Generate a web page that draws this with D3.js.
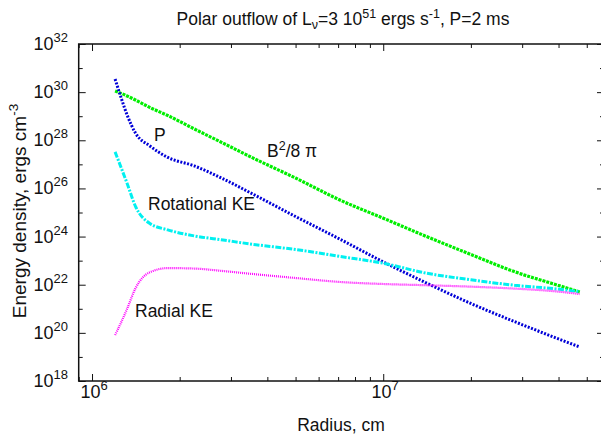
<!DOCTYPE html>
<html>
<head>
<meta charset="utf-8">
<script src="https://cdn.jsdelivr.net/npm/d3@7"></script>
<style>
  body { margin: 0; background: #fff; }
  text { font-family: "Liberation Sans", Arial, sans-serif; fill: #111; }
</style>
</head>
<body>
<div id="chart"></div>
<script>
// radius grid (cm)
var radius = [1.2e6, 1.26e6, 1.32e6, 1.41e6, 1.58e6, 1.82e6, 2.24e6, 2.82e6, 3.55e6,
  5.0e6, 7.1e6, 1.0e7, 1.41e7, 2.0e7, 2.82e7, 3.98e7, 4.73e7];

// energy densities (ergs cm^-3)
var magnetic = [1.12e30, 8.9e29, 6.9e29, 4.7e29, 2.3e29, 1.07e29, 3.0e28, 7.6e27, 1.9e27,
  2.7e26, 3.3e25, 5.8e24, 1.0e24, 1.8e23, 3.5e22, 9.5e21, 5.0e21];
var pressure = [3.5e30, 5.6e29, 1.12e29, 2.0e28, 5.8e27, 1.95e27, 8.7e26, 2.5e26, 6.0e25,
  6.8e24, 7.8e23, 8.9e22, 1.17e22, 1.66e21, 2.95e20, 5.75e19, 2.6e19];
var rotational = [3.3e27, 7.1e26, 1.6e26, 1.8e25, 3.5e24, 1.9e24, 1.07e24, 7.2e23, 4.8e23,
  2.9e23, 1.5e23, 7.8e22, 3.0e22, 1.6e22, 9.5e21, 6.6e21, 5.1e21];
var radial = [8.1e19, 2.8e20, 1.0e21, 7.1e21, 3.3e22, 4.9e22, 4.7e22, 3.7e22, 2.8e22,
  1.9e22, 1.3e22, 1.07e22, 9.5e21, 8.3e21, 6.9e21, 5.2e21, 4.1e21];

// tick exponents
var xMajorExp = [6, 7];
var yMajorExp = [18, 20, 22, 24, 26, 28, 30, 32];

var W = 601, H = 437;
var plotL = 78.7, plotR = 604, plotT = 44, plotB = 381;

var svg = d3.select("#chart").append("svg")
  .attr("width", W)
  .attr("height", H);

var x = d3.scaleLog().domain([9e5, 5.73e7]).range([plotL, plotR]);
var y = d3.scaleLog().domain([1e18, 1e32]).range([plotB, plotT]);

// minor / major tick values
var xMajor = xMajorExp.map(function (e) { return Math.pow(10, e); });
var xMinor = x.ticks(20).filter(function (d) { return xMajor.indexOf(d) < 0; });
var yAll = d3.range(18, 33).map(function (e) { return Math.pow(10, e); });
var yMajor = yMajorExp.map(function (e) { return Math.pow(10, e); });
var yMinor = yAll.filter(function (d) { return yMajor.indexOf(d) < 0; });

var majorLen = 7, minorLen = 4;

function tickGroup(axis, tx, ty) {
  var g = svg.append("g").attr("transform", "translate(" + tx + "," + ty + ")").call(axis);
  g.select(".domain").remove();
  g.selectAll(".tick line").attr("stroke", "#111").attr("stroke-width", 1);
  g.selectAll(".tick text").remove();
  return g;
}

// ticks point inward on all four sides
tickGroup(d3.axisBottom(x).tickValues(xMajor).tickSize(-majorLen), 0, plotB);
tickGroup(d3.axisBottom(x).tickValues(xMinor).tickSize(-minorLen), 0, plotB);
tickGroup(d3.axisTop(x).tickValues(xMajor).tickSize(-majorLen), 0, plotT);
tickGroup(d3.axisTop(x).tickValues(xMinor).tickSize(-minorLen), 0, plotT);
tickGroup(d3.axisLeft(y).tickValues(yMajor).tickSize(-majorLen), plotL, 0);
tickGroup(d3.axisLeft(y).tickValues(yMinor).tickSize(-minorLen), plotL, 0);
tickGroup(d3.axisRight(y).tickValues(yMajor).tickSize(-majorLen), plotR, 0);
tickGroup(d3.axisRight(y).tickValues(yMinor).tickSize(-minorLen), plotR, 0);

// frame
svg.append("rect")
  .attr("x", plotL).attr("y", plotT)
  .attr("width", plotR - plotL).attr("height", plotB - plotT)
  .attr("fill", "none").attr("stroke", "#111").attr("stroke-width", 1.5);

// tick labels with superscripts
yMajorExp.forEach(function (e) {
  var t = svg.append("text")
    .attr("x", 68).attr("y", y(Math.pow(10, e)) + 6)
    .attr("text-anchor", "end").attr("font-size", 18);
  t.append("tspan").text("10");
  t.append("tspan").attr("dy", -8).attr("font-size", 13).text(e);
});
xMajorExp.forEach(function (e) {
  var t = svg.append("text")
    .attr("x", x(Math.pow(10, e)) + 2).attr("y", 398)
    .attr("text-anchor", "middle").attr("font-size", 18);
  t.append("tspan").text("10");
  t.append("tspan").attr("dy", -8).attr("font-size", 13).text(e);
});

// axis titles
svg.append("text")
  .attr("x", 341).attr("y", 431)
  .attr("text-anchor", "middle").attr("font-size", 17.5)
  .text("Radius, cm");

var yl = svg.append("text")
  .attr("transform", "translate(26,211) rotate(-90)")
  .attr("text-anchor", "middle").attr("font-size", 19);
yl.append("tspan").text("Energy density, ergs cm");
yl.append("tspan").attr("dy", -8).attr("font-size", 13.5).text("-3");

// title
var ti = svg.append("text")
  .attr("x", 343).attr("y", 25)
  .attr("text-anchor", "middle").attr("font-size", 17.5);
ti.append("tspan").text("Polar outflow of L");
ti.append("tspan").attr("dy", 4).attr("font-size", 12.5).text("\u03bd");
ti.append("tspan").attr("dy", -4).text("=3 10");
ti.append("tspan").attr("dy", -7).attr("font-size", 12.5).text("51");
ti.append("tspan").attr("dy", 7).text(" ergs s");
ti.append("tspan").attr("dy", -7).attr("font-size", 12.5).text("-1");
ti.append("tspan").attr("dy", 7).text(", P=2 ms");

// curves
var series = [
  { values: magnetic, color: "#00ee00", width: 3.2, dash: "3,1" },
  { values: pressure, color: "#0000d8", width: 3, dash: "2,1.5" },
  { values: rotational, color: "#00f0f0", width: 3, dash: "6,1.5,2,1.5" },
  { values: radial, color: "#ff00ff", width: 2.2, dash: "1,1" }
];

var line = d3.line()
  .x(function (d) { return x(d[0]); })
  .y(function (d) { return y(d[1]); })
  .curve(d3.curveMonotoneX);

series.forEach(function (s) {
  svg.append("path")
    .datum(radius.map(function (r, i) { return [r, s.values[i]]; }))
    .attr("d", line)
    .attr("fill", "none")
    .attr("stroke", s.color)
    .attr("stroke-width", s.width)
    .attr("stroke-dasharray", s.dash);
});

// curve labels
svg.append("text").attr("x", 154).attr("y", 140.5).attr("font-size", 17.5).text("P");
var bl = svg.append("text").attr("x", 267).attr("y", 157).attr("font-size", 17.5);
bl.append("tspan").text("B");
bl.append("tspan").attr("dy", -7).attr("font-size", 12.5).text("2");
bl.append("tspan").attr("dy", 7).text("/8 \u03c0");
svg.append("text").attr("x", 148).attr("y", 210).attr("font-size", 17.5).text("Rotational KE");
svg.append("text").attr("x", 135).attr("y", 317).attr("font-size", 17.5).text("Radial KE");
</script>
</body>
</html>
